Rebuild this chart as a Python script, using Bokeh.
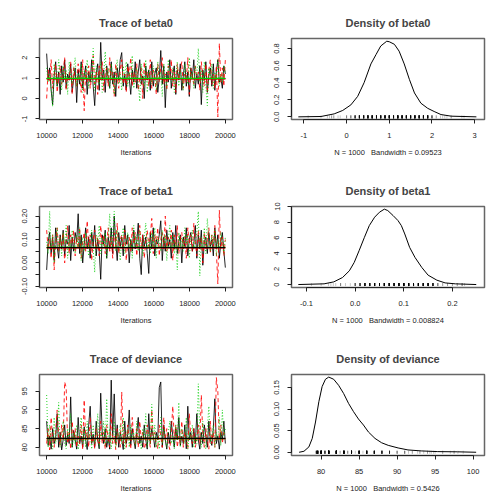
import numpy as np
from bokeh.plotting import figure
from bokeh.layouts import gridplot
from bokeh.models import FixedTicker, Range1d
from bokeh.embed import file_html
from bokeh.resources import INLINE

# ---------------- data ----------------
iter_start, iter_end = 10000, 20000

beta0_c1 = [2.2, 0.9, 1.5, 0.4, -0.3, 1.1, 1.8, 0.6, 1.3, 0.2,
            1.6, 0.8, 1.9, 0.5, 1.2, 0.9, 1.7, 0.3, 1.0, 1.5,
            -0.2, 1.4, 0.7, 1.8, 0.5, 1.1, 1.6, 0.2, 1.3, 0.8,
            1.9, 0.6, -0.35, 1.2, 1.7, 0.4, 2.75, 0.9, 1.4, 0.3,
            1.6, 1.0, 0.5, 1.8, 0.7, 1.3, 0.1, 1.5, 0.9, 1.9,
            2.25, 0.6, 1.2, 0.4, 1.7, 1.0, 0.2, 1.4, 0.8, 1.8,
            0.5, 1.3, 1.9, 0.7, 1.1, 0.0, 1.6, 0.9, 1.4, 0.4,
            1.8, 0.6, 1.2, 1.5, 0.3, 1.0, 2.35, 0.7, 1.6, -0.45,
            1.3, 0.8, 1.9, 0.5, 1.2, 1.6, 0.2, 1.4, 0.9, 1.7,
            0.4, 1.1, 1.8, 0.6, 1.3, 0.1, 1.5, 1.0, 1.9, 0.5,
            1.2, 0.7, 1.6, -0.3, 1.4, 0.9, 1.8, 0.3, 1.1, 1.5,
            0.6, 1.7, 0.4, 1.3, 1.9, 0.8, 1.0, 0.5, 1.6, 1.2]
beta0_c2 = [0.0, 1.4, 0.8, 1.9, 0.5, 1.2, 1.7, 0.3, 1.0, 1.6,
            0.7, 1.3, 2.0, 0.4, 1.1, 0.9, 1.8, 0.2, 1.5, 1.0,
            0.6, 1.7, 1.2, 0.3, 1.9, -0.6, 1.4, 0.8, 1.6, 0.5,
            1.1, 2.1, 0.7, 1.3, 0.2, 1.6, 0.9, 1.8, 0.4, 1.2,
            1.5, 0.6, 2.0, 0.9, 1.3, 0.1, 1.7, 1.0, 0.5, 1.4,
            1.9, 0.7, 1.2, 0.3, 1.6, 1.1, 2.0, 0.6, 1.3, 0.8,
            1.7, 0.4, 1.0, 1.5, 0.0, 1.8, 0.9, 1.3, 0.6, 1.9,
            0.5, 1.4, 1.1, 0.2, 1.7, 0.8, 1.5, 2.0, 0.7, 1.2,
            0.4, 1.6, 1.0, 1.9, 0.6, 1.3, 0.3, 1.7, 0.9, 1.4,
            1.8, 0.5, 1.2, 0.8, 2.0, 0.2, 1.5, 1.1, 0.7, 1.6,
            0.9, 1.3, 0.4, 1.8, 1.0, 0.6, 1.7, 0.3, 1.4, 1.9,
            0.7, 1.2, 0.5, 1.6, -0.9, 2.7, 0.8, 1.5, 0.6, 1.9]
beta0_c3 = [1.5, 0.8, 1.2, 0.5, -0.4, 1.7, 1.0, 0.6, 1.9, 1.3,
            0.4, 1.6, 0.9, 1.4, 0.2, 1.8, 1.1, 0.7, 1.5, 2.0,
            0.6, 1.2, 0.9, 1.7, 0.3, 1.4, 1.0, 1.9, 0.5, 1.3,
            0.8, 2.45, 0.4, 1.6, 1.1, 0.7, 1.8, 0.3, 1.2, 2.3,
            0.9, 1.5, 0.5, 1.7, 1.0, 0.2, 1.4, 1.9, 0.7, 1.2,
            0.4, 1.6, 1.1, 1.8, 0.6, 1.3, 0.9, 2.1, 0.5, 1.0,
            1.5, 0.8, -0.15, 1.7, 1.2, 0.6, 1.9, 0.3, 1.4, 1.0,
            0.7, 1.6, 1.2, 0.4, 1.8, 0.9, 1.3, 0.1, 1.7, 1.0,
            0.5, 1.9, 1.1, 0.8, 1.5, 0.3, 1.2, 1.8, 0.6, 1.4,
            1.0, 0.4, 1.7, 1.2, 0.7, 2.0, 0.9, 1.3, 0.5, 1.6,
            1.1, 2.45, 0.8, 1.4, 0.3, 1.8, 0.6, -0.35, 1.5, 1.0,
            1.7, 0.5, 1.3, 0.9, 1.9, 0.6, 1.2, 0.8, 1.6, 1.3]

beta1_c1 = [-0.03, 0.09, 0.13, 0.04, 0.11, 0.01, 0.15, 0.07, 0.02, 0.12,
            0.06, 0.14, 0.03, 0.10, 0.08, 0.16, 0.01, 0.11, 0.05, 0.13,
            0.09, 0.21, 0.04, 0.12, 0.00, 0.08, 0.15, 0.06, 0.11, 0.02,
            0.13, 0.07, 0.16, 0.03, 0.10, 0.05, -0.07, 0.12, 0.08, 0.14,
            0.02, 0.11, 0.06, 0.15, 0.04, 0.20, 0.09, 0.01, 0.13, 0.07,
            0.11, 0.03, 0.16, 0.08, 0.12, 0.00, 0.10, 0.05, 0.14, 0.06,
            0.09, 0.17, 0.02, -0.05, 0.12, 0.07, 0.11, 0.04, -0.045, 0.13,
            0.06, 0.15, 0.03, 0.10, 0.08, 0.12, 0.18, 0.01, 0.11, 0.05,
            0.14, 0.07, 0.10, 0.02, 0.13, 0.06, 0.16, 0.04, 0.09, 0.12,
            0.00, 0.11, 0.07, 0.15, 0.03, 0.10, 0.13, 0.05, 0.08, 0.16,
            0.02, 0.12, 0.06, 0.14, -0.01, 0.09, 0.11, 0.04, 0.13, 0.07,
            0.10, 0.03, 0.15, 0.06, 0.12, 0.02, 0.09, 0.13, 0.05, -0.02]
beta1_c2 = [0.14, 0.06, 0.10, 0.02, 0.12, -0.03, 0.09, 0.15, 0.05, 0.11,
            0.07, 0.13, 0.00, 0.10, 0.16, 0.04, 0.12, 0.08, 0.14, 0.03,
            0.11, 0.06, 0.15, 0.02, 0.09, 0.13, 0.05, 0.18, 0.07, 0.12,
            0.01, 0.10, 0.14, 0.06, 0.11, 0.03, 0.16, 0.08, 0.12, 0.04,
            0.09, 0.15, 0.05, 0.11, 0.02, 0.13, 0.07, 0.17, 0.04, 0.10,
            0.12, 0.06, 0.14, 0.01, 0.09, 0.11, 0.05, 0.15, 0.08, 0.13,
            0.03, 0.10, 0.16, 0.06, 0.12, 0.02, 0.09, 0.14, 0.07, 0.11,
            0.19, 0.04, 0.12, 0.08, 0.15, 0.03, 0.10, 0.13, 0.06, 0.20,
            0.05, 0.11, 0.08, 0.14, 0.01, 0.12, 0.07, 0.16, 0.04, 0.10,
            0.13, 0.06, 0.11, 0.02, 0.15, 0.08, 0.12, 0.05, 0.17, 0.09,
            0.03, 0.14, 0.07, 0.11, 0.00, 0.13, 0.06, 0.10, 0.15, 0.04,
            0.12, 0.07, 0.16, 0.05, -0.09, 0.225, 0.06, 0.11, 0.03, 0.10]
beta1_c3 = [0.09, 0.04, 0.22, 0.06, 0.12, 0.00, 0.10, 0.15, 0.05, 0.11,
            0.03, 0.13, 0.08, 0.16, 0.02, 0.10, 0.06, 0.14, 0.09, 0.04,
            0.12, 0.07, 0.15, 0.01, 0.11, 0.05, 0.13, 0.08, 0.03, 0.10,
            0.14, 0.06, -0.04, 0.12, 0.09, 0.16, 0.04, 0.11, 0.07, 0.13,
            0.02, 0.10, 0.21, 0.06, 0.12, 0.22, 0.05, 0.14, 0.08, 0.01,
            0.11, 0.15, 0.04, 0.09, 0.13, 0.06, 0.10, 0.02, 0.16, 0.07,
            0.12, 0.05, 0.14, 0.08, 0.03, 0.11, 0.17, 0.06, 0.10, 0.04,
            0.13, 0.07, 0.15, 0.02, 0.11, 0.09, 0.05, 0.14, 0.08, 0.12,
            0.01, 0.10, 0.16, 0.06, 0.12, 0.04, 0.09, -0.03, 0.13, 0.07,
            0.11, 0.05, 0.15, 0.08, 0.12, 0.02, 0.10, 0.14, 0.06, 0.09,
            0.13, 0.22, -0.055, 0.11, 0.07, 0.15, 0.04, 0.19, 0.10, 0.05,
            0.12, 0.08, 0.14, 0.03, 0.10, 0.06, 0.13, 0.09, 0.04, 0.11]

dev_c1 = [87, 80.5, 83, 79.5, 85, 81, 82.5, 89, 80, 84,
          79.3, 82, 86, 80.5, 83.5, 81, 93.5, 80, 84.5, 82,
          79.5, 88, 81, 83, 80, 85.5, 82, 79.4, 86, 91,
          81, 83.5, 80, 87, 82, 79.6, 94.5, 84, 81, 85,
          80, 82.5, 79.5, 98, 83, 94.3, 81, 86, 80, 84,
          82, 79.4, 87, 81, 83.5, 90, 80.5, 85, 82, 79.6,
          84, 88, 81, 83, 80, 86, 82, 79.5, 89, 81,
          85, 83, 80, 84, 82, 96, 97.5, 80, 86, 82,
          79.5, 84, 81, 87, 83, 80, 85, 82, 88, 80.5,
          83, 81, 86, 79.6, 91, 82, 84, 80, 85, 81,
          89, 82, 79.5, 84, 81, 86, 83, 80, 87, 82,
          80.5, 85, 93, 81, 83, 79.5, 84, 82, 87, 81]
dev_c2 = [81, 85, 79.3, 88, 82, 80, 84, 90, 83, 80.5,
          86, 82, 97.5, 96, 81, 84, 79.5, 87, 82, 85,
          80, 83, 81, 86, 79.4, 92.7, 82, 84, 80, 88,
          81, 83, 79.6, 85, 82, 80.5, 87, 81, 84, 79.5,
          86, 82, 80, 89, 81, 83, 79.4, 85, 82, 80,
          94.8, 81, 84, 80, 86, 82, 79.5, 88, 83, 81,
          85, 80, 87, 82, 84, 79.6, 81, 86, 83, 80,
          90, 82, 84, 81, 79.5, 86, 83, 80, 88, 82,
          85, 81, 79.4, 84, 91, 82, 86, 80, 83, 81,
          87, 80, 84, 82, 79.6, 89, 83, 81, 85, 80,
          82, 86, 81, 94, 83, 80, 85, 82, 79.5, 87,
          81, 84, 80, 98.7, 95, 82, 86, 81, 84, 83]
dev_c3 = [94, 80, 86, 82, 79.5, 88, 81, 84, 92, 80,
          83, 87, 81, 79.6, 85, 82, 89, 80, 84, 81,
          86, 79.4, 83, 88, 81, 85, 80, 87, 82, 84,
          79.5, 86, 81, 83, 89, 80, 84, 82, 87, 80.5,
          93, 81, 85, 79.6, 83, 87, 80, 84, 82, 86,
          81, 88, 79.5, 83, 85, 80, 86, 82, 84, 80.5,
          87, 81, 83, 79.4, 85, 82, 89, 80, 84, 81,
          91.5, 82, 86, 80, 83, 79.5, 88, 81, 85, 82,
          80, 84, 87, 81, 83, 79.6, 86, 82, 92, 80,
          85, 83, 81, 88, 79.5, 84, 82, 86, 80, 83,
          81, 97, 84, 80, 87, 82, 79.5, 85, 91, 81,
          83, 86, 80, 84, 82, 88, 80.5, 90, 83, 85]

# smoothed chain levels (flat lines)
beta0_levels = [0.97, 0.96, 0.99]
beta1_levels = [0.065, 0.064, 0.066]
dev_levels = [82.4, 82.3, 82.3]

# density curves
dens_b0_x = [-1.13, -0.6, -0.29, -0.09, 0.10, 0.26, 0.41, 0.57, 0.69, 0.80, 0.94, 1.0,
             1.12, 1.23, 1.35, 1.47, 1.59, 1.74, 1.90, 2.05, 2.21, 2.45, 3.04]
dens_b0_y = [0.0, 0.004, 0.035, 0.075, 0.14, 0.24, 0.40, 0.62, 0.73, 0.83, 0.886, 0.88,
             0.85, 0.77, 0.62, 0.44, 0.28, 0.16, 0.10, 0.063, 0.027, 0.008, 0.0]
dens_b1_x = [-0.117, -0.064, -0.044, -0.026, -0.012, -0.002, 0.008, 0.019, 0.029, 0.040,
             0.050, 0.060, 0.067, 0.078, 0.088, 0.095, 0.102, 0.112, 0.123, 0.137,
             0.150, 0.168, 0.185, 0.206, 0.249]
dens_b1_y = [0.0, 0.09, 0.34, 0.9, 1.76, 2.83, 4.33, 6.05, 7.55, 8.63,
             9.27, 9.66, 9.48, 8.84, 8.2, 7.55, 6.48, 4.76, 3.48, 2.19,
             1.2, 0.56, 0.21, 0.09, 0.0]
dens_dev_x = [77.1, 77.74, 78.39, 78.83, 79.26, 79.70, 80.13, 80.57, 81.0, 81.65,
              82.30, 82.96, 83.61, 84.26, 84.91, 85.57, 86.22, 87.09, 87.96, 88.83,
              90.13, 91.43, 93.17, 95.35, 97.96, 100.4]
dens_dev_y = [0.0, 0.0023, 0.0124, 0.032, 0.070, 0.117, 0.152, 0.169, 0.174, 0.169,
              0.155, 0.136, 0.113, 0.094, 0.077, 0.063, 0.047, 0.032, 0.022, 0.016,
              0.010, 0.0054, 0.0031, 0.0015, 0.001, 0.0]

# axis ticks / labels
trace_xticks = [10000, 12000, 14000, 16000, 18000, 20000]
trace_xlabels = ["10000", "12000", "14000", "16000", "18000", "20000"]
b0_trace_yticks = [-1, 0, 1, 2]
b0_trace_ylabels = ["-1", "0", "1", "2"]
b1_trace_yticks = [-0.10, -0.05, 0.0, 0.05, 0.10, 0.15, 0.20]
b1_trace_ylabels = ["-0.10", "", "0.00", "", "0.10", "", "0.20"]
dev_trace_yticks = [80, 85, 90, 95]
dev_trace_ylabels = ["80", "85", "90", "95"]
b0_dens_xticks = [-1, 0, 1, 2, 3]
b0_dens_xlabels = ["-1", "0", "1", "2", "3"]
b0_dens_yticks = [0.0, 0.2, 0.4, 0.6, 0.8]
b0_dens_ylabels = ["0.0", "0.2", "0.4", "0.6", "0.8"]
b1_dens_xticks = [-0.1, 0.0, 0.1, 0.2]
b1_dens_xlabels = ["-0.1", "0.0", "0.1", "0.2"]
b1_dens_yticks = [0, 2, 4, 6, 8, 10]
b1_dens_ylabels = ["0", "2", "4", "6", "8", "10"]
dev_dens_xticks = [80, 85, 90, 95, 100]
dev_dens_xlabels = ["80", "85", "90", "95", "100"]
dev_dens_yticks = [0.0, 0.05, 0.10, 0.15]
dev_dens_ylabels = ["0.00", "0.05", "0.10", "0.15"]

SP = "\u00a0\u00a0\u00a0"
b0_note = "N = 1000" + SP + "Bandwidth = 0.09523"
b1_note = "N = 1000" + SP + "Bandwidth = 0.008824"
dev_note = "N = 1000" + SP + "Bandwidth = 0.5426"

chain_colors = ["#000000", "#FF0000", "#00CD00"]
chain_dash = ["solid", "4 3", "1 2"]

FONT = "Liberation Sans"
W, H = 252, 168


def style(p, xticks, xlabels, yticks, ylabels, xlabel):
    p.title.text_font = FONT
    p.title.text_font_size = "11px"
    p.title.text_font_style = "bold"
    p.title.align = "center"
    p.title.standoff = 19
    p.outline_line_color = "#666666"
    p.outline_line_width = 1.5
    p.xgrid.visible = False
    p.ygrid.visible = False
    p.background_fill_color = "white"
    p.border_fill_color = "white"
    for ax, ticks, labels in ((p.xaxis[0], xticks, xlabels), (p.yaxis[0], yticks, ylabels)):
        ax.ticker = FixedTicker(ticks=ticks)
        ax.major_label_overrides = {t: l for t, l in zip(ticks, labels)}
        ax.bounds = (ticks[0], ticks[-1])
        ax.major_tick_out = 4
        ax.major_tick_in = 0
        ax.minor_tick_line_color = None
        ax.axis_line_color = "#222222"
        ax.major_tick_line_color = "#222222"
        ax.major_label_text_font = FONT
        ax.major_label_text_font_size = "7.5px"
        ax.major_label_text_color = "#222222"
    p.xaxis[0].major_label_standoff = 9
    p.yaxis[0].major_label_standoff = 8
    p.yaxis[0].major_label_orientation = "vertical"
    p.xaxis[0].axis_label = xlabel
    p.xaxis[0].axis_label_text_font = FONT
    p.xaxis[0].axis_label_text_font_size = "7.5px"
    p.xaxis[0].axis_label_text_font_style = "normal"
    p.xaxis[0].axis_label_text_color = "#222222"
    p.xaxis[0].axis_label_standoff = 7


def make_fig(title, xr, yr):
    return figure(width=W, height=H, output_backend="svg", toolbar_location=None,
                  title=title, x_range=Range1d(*xr), y_range=Range1d(*yr),
                  min_border_left=39, min_border_right=20, min_border_top=38, min_border_bottom=49)


def trace_fig(title, chains, levels, yr, yticks, ylabels, level_order):
    p = make_fig(title, (9600, 20400), yr)
    for vals, col, dash in zip(chains, chain_colors, chain_dash):
        iters = np.linspace(iter_start, iter_end, len(vals))
        p.line(iters, vals, line_color=col, line_dash=dash, line_width=1, line_alpha=0.85)
    for i in level_order:
        p.line([iter_start, iter_end], [levels[i], levels[i]], line_color=chain_colors[i], line_width=1.2)
    style(p, trace_xticks, trace_xlabels, yticks, ylabels, "Iterations")
    return p


def dens_fig(title, dx, dy, chains, xr, yr, xticks, xlabels, yticks, ylabels, label):
    p = make_fig(title, xr, yr)
    rug = np.concatenate([np.asarray(c, dtype=float) for c in chains])
    p.scatter(rug, np.zeros_like(rug), marker="dash", angle=np.pi / 2, size=3,
              line_color="black", line_alpha=0.45, line_width=0.5)
    p.line(dx, dy, line_color="black", line_width=1)
    style(p, xticks, xlabels, yticks, ylabels, label)
    return p


p1 = trace_fig("Trace of beta0", [beta0_c1, beta0_c2, beta0_c3], beta0_levels,
               (-1.03, 2.94), b0_trace_yticks, b0_trace_ylabels, [0, 1, 2])
p2 = dens_fig("Density of beta0", dens_b0_x, dens_b0_y, [beta0_c1, beta0_c2, beta0_c3],
              (-1.29, 3.23), (-0.031, 0.918), b0_dens_xticks, b0_dens_xlabels,
              b0_dens_yticks, b0_dens_ylabels, b0_note)
p3 = trace_fig("Trace of beta1", [beta1_c1, beta1_c2, beta1_c3], beta1_levels,
               (-0.105, 0.241), b1_trace_yticks, b1_trace_ylabels, [1, 2, 0])
p4 = dens_fig("Density of beta1", dens_b1_x, dens_b1_y, [beta1_c1, beta1_c2, beta1_c3],
              (-0.131, 0.266), (-0.38, 10.0), b1_dens_xticks, b1_dens_xlabels,
              b1_dens_yticks, b1_dens_ylabels, b1_note)
p5 = trace_fig("Trace of deviance", [dev_c1, dev_c2, dev_c3], dev_levels,
               (77.8, 99.5), dev_trace_yticks, dev_trace_ylabels, [2, 1, 0])
p6 = dens_fig("Density of deviance", dens_dev_x, dens_dev_y, [dev_c1, dev_c2, dev_c3],
              (76.1, 101.5), (-0.0075, 0.180), dev_dens_xticks, dev_dens_xlabels,
              dev_dens_yticks, dev_dens_ylabels, dev_note)

grid = gridplot([[p1, p2], [p3, p4], [p5, p6]], toolbar_location=None)

open("out.html", "w").write(file_html(grid, INLINE))
